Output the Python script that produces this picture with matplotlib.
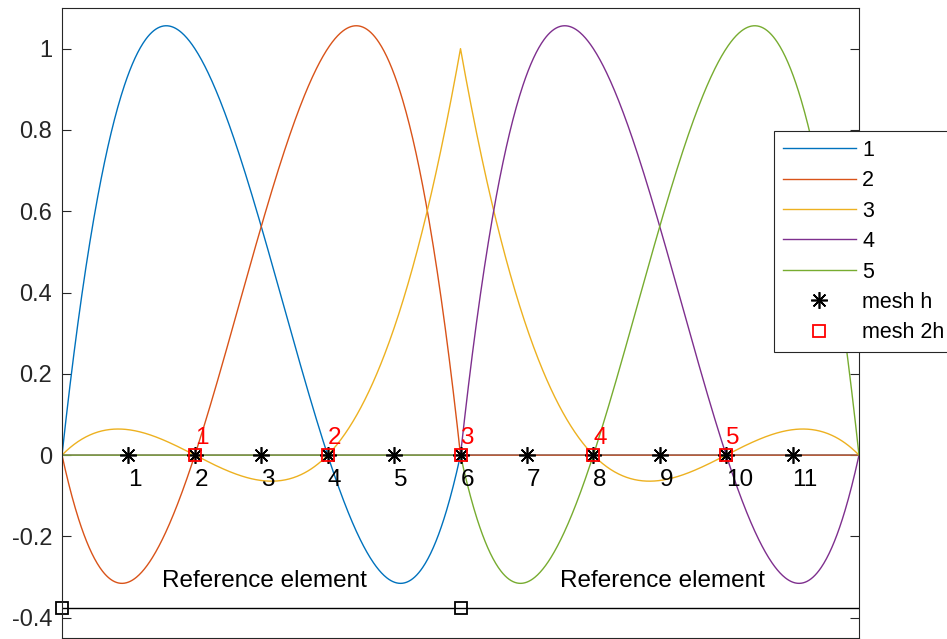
"""
Cubic Lagrange basis functions on two reference elements, with mesh h and mesh 2h nodes.
Saves out.png (947x639).
"""
import numpy as np
import matplotlib.pyplot as plt

plt.rcParams['font.family'] = ['Liberation Sans', 'DejaVu Sans']

# element nodes (two cubic elements) and the global nodes carrying basis functions
ELEMENTS = [[0, 2, 4, 6], [6, 8, 10, 12]]
BASIS_NODES = [2, 4, 6, 8, 10]
BASIS_LABELS = ['1', '2', '3', '4', '5']
MESH_H = [1, 2, 3, 4, 5, 6, 7, 8, 9, 10, 11]
MESH_2H = [2, 4, 6, 8, 10]
ELEM_STARTS = [0, 6]
REF_LINE_X = [0, 12]
REF_LINE_Y = -0.375
REF_TEXT_X = [1.5, 7.5]

COLORS = ['#0072BD', '#D95319', '#EDB120', '#7E2F8E', '#77AC30']


def lagrange(x, nodes, k):
    # k-th Lagrange polynomial on the element nodes
    out = np.ones_like(x)
    for j, xj in enumerate(nodes):
        if j != k:
            out *= (x - xj) / (nodes[k] - xj)
    return out


def basis(x, node):
    y = np.zeros_like(x)
    for el in ELEMENTS:
        if node in el:
            m = (x >= el[0]) & (x <= el[-1])
            y[m] = lagrange(x[m], el, el.index(node))
    return y


fig = plt.figure(figsize=(9.47, 6.39), dpi=100)
ax = fig.add_axes([62 / 947, 1 / 639, 797 / 947, 630 / 639])

x = np.linspace(0, 12, 1201)
for node, lab, c in zip(BASIS_NODES, BASIS_LABELS, COLORS):
    ax.plot(x, basis(x, node), color=c, lw=1.0, label=lab)

ax.plot(MESH_H, np.zeros(len(MESH_H)), ls='none', marker=(8, 2, 0), ms=12,
        mew=1.2, color='black', label='mesh h')
ax.plot(MESH_2H, np.zeros(len(MESH_2H)), ls='none', marker='s', ms=9,
        mew=1.3, mfc='none', mec='red', label='mesh 2h')

for xi in MESH_H:
    ax.text(xi, -0.062, str(xi), fontsize=17.5, ha='left', va='center')
for i, xi in enumerate(MESH_2H):
    ax.text(xi, 0.042, str(i + 1), fontsize=17.5, ha='left', va='center', color='red')

ax.plot(REF_LINE_X, [REF_LINE_Y, REF_LINE_Y], color='black', lw=1.0)
ax.plot(ELEM_STARTS, [REF_LINE_Y] * len(ELEM_STARTS), ls='none', marker='s',
        ms=9, mew=1.3, mfc='none', mec='black', clip_on=False)
for xt in REF_TEXT_X:
    ax.text(xt, -0.31, 'Reference element', fontsize=17.5, ha='left', va='center')

ax.set_xlim(0, 12)
ax.set_ylim(-0.45, 1.1)
ax.set_xticks([])
ax.set_yticks([-0.4, -0.2, 0, 0.2, 0.4, 0.6, 0.8, 1])
ax.set_yticklabels(['-0.4', '-0.2', '0', '0.2', '0.4', '0.6', '0.8', '1'])
ax.tick_params(axis='y', direction='in', length=6.5, width=0.8, labelsize=17,
               right=True, pad=7, colors='#262626')
for s in ax.spines.values():
    s.set_color('#262626')
    s.set_linewidth(0.8)

leg = ax.legend(loc='upper left', bbox_to_anchor=(774 / 947, 1 - 131 / 639),
                bbox_transform=fig.transFigure, borderaxespad=0, fontsize=15.5,
                handlelength=3.4, handletextpad=0.3, labelspacing=0.44,
                borderpad=0.4, fancybox=False, framealpha=1)
leg.get_frame().set_edgecolor('#262626')
leg.get_frame().set_linewidth(0.8)

fig.savefig('out.png', dpi=100)
